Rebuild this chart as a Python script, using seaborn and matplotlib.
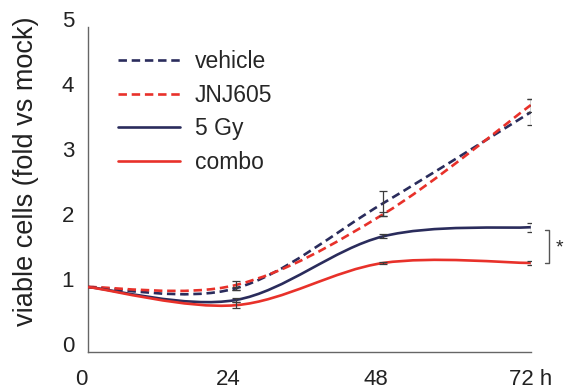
import numpy as np
import matplotlib.pyplot as plt
import seaborn as sns
from matplotlib.path import Path
from matplotlib.patches import PathPatch
from matplotlib.lines import Line2D
from matplotlib.transforms import ScaledTranslation

# data
hours = [0, 24, 48, 72]
vehicle = [1.0, 0.98, 2.29, 3.69]
jnj605 = [1.0, 1.03, 2.12, 3.80]
gy5 = [1.0, 0.80, 1.78, 1.92]
combo = [1.0, 0.72, 1.37, 1.37]

vehicle_err = [np.nan, 0.02, 0.19, 0.20]
jnj605_err = [np.nan, 0.07, 0.03, 0.10]
gy5_err = [np.nan, 0.03, 0.03, 0.07]
combo_err = [np.nan, 0.05, 0.02, 0.03]

labels = ["vehicle", "JNJ605", "5 Gy", "combo"]
xtick_labels = ["0", "24", "48", "72 h"]

navy = "#2a2c5c"
red = "#e8312a"
dash = (0, (3.2, 1.8))

sns.set_style("white")
plt.rcParams['font.family'] = ['Liberation Sans', 'DejaVu Sans']


def smooth_path(x, y):
    # excel-style smoothed line: bezier segments through the points
    pts = np.column_stack([x, y]).astype(float)
    n = len(pts)
    verts = [pts[0]]
    codes = [Path.MOVETO]
    for i in range(n - 1):
        p0 = pts[max(i - 1, 0)]
        p1 = pts[i]
        p2 = pts[i + 1]
        p3 = pts[min(i + 2, n - 1)]
        verts += [p1 + (p2 - p0) / 6, p2 - (p3 - p1) / 6, p2]
        codes += [Path.CURVE4] * 3
    return Path(verts, codes)


fig = plt.figure(figsize=(5.72, 3.92), dpi=100)
ax = fig.add_axes([0.154, 0.102, 0.774, 0.829])

series = [
    (vehicle, vehicle_err, navy, dash),
    (jnj605, jnj605_err, red, dash),
    (gy5, gy5_err, navy, "-"),
    (combo, combo_err, red, "-"),
]

handles = []
for (vals, err, col, ls), lab in zip(series, labels):
    ax.add_patch(PathPatch(smooth_path(hours, vals), fill=False,
                           edgecolor=col, lw=1.9, linestyle=ls, zorder=3))
    ax.errorbar(hours, vals, yerr=err, fmt="none", ecolor="#3c3c3c",
                elinewidth=0.9, capsize=3, capthick=0.9, zorder=4)
    handles.append(Line2D([], [], color=col, lw=1.9, linestyle=ls, label=lab))

# significance bracket
ax.plot([74.3, 74.9, 74.9, 74.3], [1.88, 1.88, 1.37, 1.37],
        color="#555555", lw=1, clip_on=False)
ax.text(76.6, 1.6, "*", fontsize=14, ha="center", va="center")

ax.set_xlim(0, 72)
ax.set_ylim(0, 5)
ax.set_xticks(hours)
ax.set_xticklabels(xtick_labels)
ax.set_yticks(range(6))
ax.tick_params(length=0, labelsize=16, colors="#222222")
ax.tick_params(axis="x", pad=12)
ax.tick_params(axis="y", pad=10)

for lbl in ax.get_xticklabels()[:-1]:
    lbl.set_transform(lbl.get_transform() + ScaledTranslation(-0.07, 0, fig.dpi_scale_trans))
for lbl in ax.get_yticklabels():
    lbl.set_transform(lbl.get_transform() + ScaledTranslation(0, 0.08, fig.dpi_scale_trans))

ax.set_ylabel("viable cells (fold vs mock)", fontsize=19.5, color="#222222")
ax.yaxis.set_label_coords(-0.11, 0.555)

sns.despine(ax=ax)
for sp in ["left", "bottom"]:
    ax.spines[sp].set_color("#666666")
    ax.spines[sp].set_linewidth(1)

ax.legend(handles=handles, loc="upper left", bbox_to_anchor=(0.068, 0.93),
          frameon=False, fontsize=16.5, handlelength=2.7, handletextpad=0.65,
          labelspacing=0.47, borderpad=0, borderaxespad=0)

fig.savefig("out.png", dpi=100)
